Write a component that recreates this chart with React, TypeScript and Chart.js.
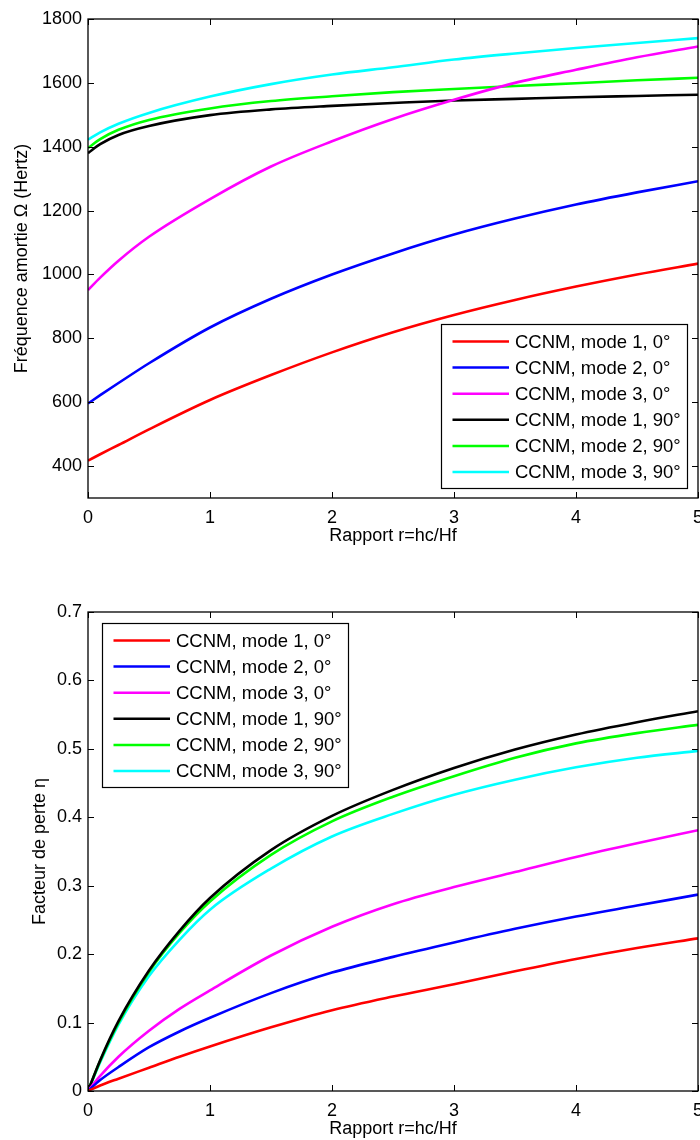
import React, { useEffect, useRef } from 'react';
import { Chart, registerables } from 'chart.js';

Chart.register(...registerables);

// ---------- data ----------
const seriesLabels = [
  'CCNM, mode 1, 0°',
  'CCNM, mode 2, 0°',
  'CCNM, mode 3, 0°',
  'CCNM, mode 1, 90°',
  'CCNM, mode 2, 90°',
  'CCNM, mode 3, 90°',
];
const seriesColors = ['#ff0000', '#0000ff', '#ff00ff', '#000000', '#00ff00', '#00ffff'];

const xTicks = [0, 1, 2, 3, 4, 5];
const freqTicks = [400, 600, 800, 1000, 1200, 1400, 1600, 1800];
const lossTicks = [0, 0.1, 0.2, 0.3, 0.4, 0.5, 0.6, 0.7];

// top chart: damped frequency (Hz) vs r
const rFreq = [0, 0.1, 0.25, 0.5, 1, 1.5, 2, 2.5, 3, 3.5, 4, 4.5, 5];
const freqMode1_0 = [417, 437, 466, 515, 607, 685, 756, 819, 873, 920, 962, 1000, 1034];
const freqMode2_0 = [596, 622, 660, 722, 834, 924, 1000, 1066, 1125, 1175, 1219, 1257, 1292];
const freqMode3_0 = [951, 990, 1043, 1118, 1236, 1338, 1417, 1487, 1547, 1600, 1641, 1680, 1714];
const freqMode1_90 = [1380, 1408, 1437, 1465, 1499, 1517, 1528, 1537, 1545, 1550, 1555, 1559, 1563];
const freqMode2_90 = [1396, 1424, 1453, 1484, 1520, 1543, 1558, 1571, 1581, 1590, 1599, 1608, 1616];
const freqMode3_90 = [1422, 1445, 1472, 1506, 1557, 1596, 1626, 1649, 1673, 1692, 1709, 1725, 1740];

// bottom chart: loss factor vs r
const rLoss = [0, 0.1, 0.25, 0.5, 0.75, 1, 1.5, 2, 2.5, 3, 3.5, 4, 4.5, 5];
const lossMode1_0 = [0, 0.008, 0.018, 0.034, 0.05, 0.065, 0.093, 0.118, 0.138, 0.156, 0.175, 0.193, 0.209, 0.223];
const lossMode2_0 = [0, 0.016, 0.035, 0.064, 0.087, 0.107, 0.143, 0.173, 0.196, 0.217, 0.237, 0.255, 0.271, 0.287];
const lossMode3_0 = [0, 0.022, 0.05, 0.088, 0.12, 0.147, 0.198, 0.24, 0.273, 0.298, 0.32, 0.342, 0.362, 0.381];
const lossMode1_90 = [0, 0.045, 0.102, 0.176, 0.234, 0.282, 0.352, 0.402, 0.44, 0.472, 0.499, 0.521, 0.539, 0.555];
const lossMode2_90 = [0, 0.044, 0.1, 0.174, 0.231, 0.277, 0.345, 0.394, 0.43, 0.46, 0.487, 0.508, 0.523, 0.535];
const lossMode3_90 = [0, 0.042, 0.097, 0.168, 0.221, 0.265, 0.325, 0.372, 0.405, 0.433, 0.455, 0.473, 0.487, 0.497];

const freqSeries = [freqMode1_0, freqMode2_0, freqMode3_0, freqMode1_90, freqMode2_90, freqMode3_90];
const lossSeries = [lossMode1_0, lossMode2_0, lossMode3_0, lossMode1_90, lossMode2_90, lossMode3_90];

// ---------- styling ----------
const FONT_FAMILY = '"Liberation Sans", Arial, Helvetica, sans-serif';
const font = { family: FONT_FAMILY, size: 18 };
const CANVAS_W = 720;
const CANVAS_H = 570;

const frameLegendPlugin = {
  id: 'frameLegend',
  afterDraw(chart: any, _args: any, opts: any) {
    const { ctx } = chart;
    const { left, right, top, bottom } = chart.chartArea;
    const xs = chart.scales.x;
    const ys = chart.scales.y;
    ctx.save();

    // legend box
    const W = 246, H = 164, rowH = 26.1;
    let bx: number, by: number;
    if (opts.corner === 'bottomRight') {
      bx = right - opts.insetX - W;
      by = bottom - opts.insetY - H;
    } else {
      bx = left + opts.insetX;
      by = top + opts.insetY;
    }
    ctx.fillStyle = '#fff';
    ctx.fillRect(bx, by, W, H);
    ctx.strokeStyle = '#000';
    ctx.lineWidth = 1.2;
    ctx.strokeRect(bx + 0.5, by + 0.5, W, H);
    ctx.font = `18.5px ${FONT_FAMILY}`;
    ctx.textBaseline = 'middle';
    ctx.textAlign = 'left';
    chart.data.datasets.forEach((ds: any, i: number) => {
      const yy = by + 17.5 + i * rowH;
      ctx.strokeStyle = ds.borderColor;
      ctx.lineWidth = 2.5;
      ctx.beginPath();
      ctx.moveTo(bx + 11.5, yy);
      ctx.lineTo(bx + 68, yy);
      ctx.stroke();
      ctx.fillStyle = '#000';
      ctx.fillText(ds.label, bx + 74, yy + 1);
    });

    // axes box with inward ticks
    ctx.strokeStyle = '#000';
    ctx.lineWidth = 1.3;
    ctx.strokeRect(left, top, right - left, bottom - top);
    const tl = 6;
    ctx.lineWidth = 1;
    ctx.beginPath();
    xs.ticks.forEach((t: any) => {
      const px = Math.round(xs.getPixelForValue(t.value)) + 0.5;
      ctx.moveTo(px, bottom);
      ctx.lineTo(px, bottom - tl);
      ctx.moveTo(px, top);
      ctx.lineTo(px, top + tl);
    });
    ys.ticks.forEach((t: any) => {
      const py = Math.round(ys.getPixelForValue(t.value)) + 0.5;
      ctx.moveTo(left, py);
      ctx.lineTo(left + tl, py);
      ctx.moveTo(right, py);
      ctx.lineTo(right - tl, py);
    });
    ctx.stroke();
    ctx.restore();
  },
};

function buildConfig(p: {
  xs: number[];
  series: number[][];
  yMin: number;
  yMax: number;
  yTicks: number[];
  yTitle: string;
  yTitlePad: number;
  yFormat: (v: number) => string;
  padTop: number;
  xAxisH: number;
  xTickPad: number;
  xTitlePadBottom: number;
  legend: any;
}): any {
  return {
    type: 'line',
    data: {
      datasets: p.series.map((vals, i) => ({
        label: seriesLabels[i],
        data: vals.map((v, j) => ({ x: p.xs[j], y: v })),
        borderColor: seriesColors[i],
        backgroundColor: seriesColors[i],
        borderWidth: 2.6,
        pointRadius: 0,
        fill: false,
        cubicInterpolationMode: 'monotone',
      })),
    },
    options: {
      responsive: false,
      animation: false,
      devicePixelRatio: 1,
      layout: { padding: { left: 0, right: CANVAS_W - 698, top: p.padTop, bottom: 0 } },
      plugins: {
        legend: { display: false },
        tooltip: { enabled: false },
        frameLegend: p.legend,
      },
      scales: {
        x: {
          type: 'linear',
          min: 0,
          max: 5,
          afterBuildTicks: (s: any) => {
            s.ticks = xTicks.map((v) => ({ value: v }));
          },
          afterFit: (s: any) => {
            s.height = p.xAxisH;
          },
          grid: { display: false, drawTicks: false },
          border: { display: false },
          ticks: {
            color: '#000',
            font,
            padding: p.xTickPad,
            maxRotation: 0,
            callback: (v: number) => String(v),
          },
          title: {
            display: true,
            text: 'Rapport r=hc/Hf',
            color: '#000',
            font,
            padding: { top: 0, bottom: p.xTitlePadBottom },
          },
        },
        y: {
          type: 'linear',
          min: p.yMin,
          max: p.yMax,
          afterBuildTicks: (s: any) => {
            s.ticks = p.yTicks.map((v) => ({ value: v }));
          },
          afterFit: (s: any) => {
            s.width = 88;
          },
          grid: { display: false, drawTicks: false },
          border: { display: false },
          ticks: {
            color: '#000',
            font,
            padding: 6,
            callback: (v: number) => p.yFormat(v),
          },
          title: {
            display: true,
            text: p.yTitle,
            color: '#000',
            font,
            padding: { top: p.yTitlePad, bottom: 0 },
          },
        },
      },
    },
    plugins: [frameLegendPlugin],
  };
}

function ChartCanvas({ config, top }: { config: any; top: number }) {
  const ref = useRef<HTMLCanvasElement>(null);
  useEffect(() => {
    const chart = new Chart(ref.current as HTMLCanvasElement, config);
    return () => chart.destroy();
  }, []);
  return (
    <canvas
      ref={ref}
      width={CANVAS_W}
      height={CANVAS_H}
      style={{ position: 'absolute', left: 0, top, width: CANVAS_W, height: CANVAS_H }}
    />
  );
}

export default function App() {
  const topConfig = buildConfig({
    xs: rFreq,
    series: freqSeries,
    yMin: 300,
    yMax: 1800,
    yTicks: freqTicks,
    yTitle: 'Fréquence amortie Ω (Hertz)',
    yTitlePad: 11,
    yFormat: (v) => String(v),
    padTop: 19,
    xAxisH: CANVAS_H - 498,
    xTickPad: 9,
    xTitlePadBottom: 23,
    legend: { corner: 'bottomRight', insetX: 11, insetY: 10 },
  });
  const bottomConfig = buildConfig({
    xs: rLoss,
    series: lossSeries,
    yMin: 0,
    yMax: 0.7,
    yTicks: lossTicks,
    yTitle: 'Facteur de perte η',
    yTitlePad: 29,
    yFormat: (v) => (v === 0 ? '0' : Number(v).toFixed(1)),
    padTop: 612 - 570,
    xAxisH: 1140 - 1091,
    xTickPad: 9,
    xTitlePadBottom: 0,
    legend: { corner: 'topLeft', insetX: 14, insetY: 11 },
  });
  return (
    <div
      style={{
        position: 'absolute',
        left: 0,
        top: 0,
        width: 700,
        height: 1140,
        overflow: 'hidden',
        background: '#fff',
      }}
    >
      <ChartCanvas config={topConfig} top={0} />
      <ChartCanvas config={bottomConfig} top={570} />
    </div>
  );
}
